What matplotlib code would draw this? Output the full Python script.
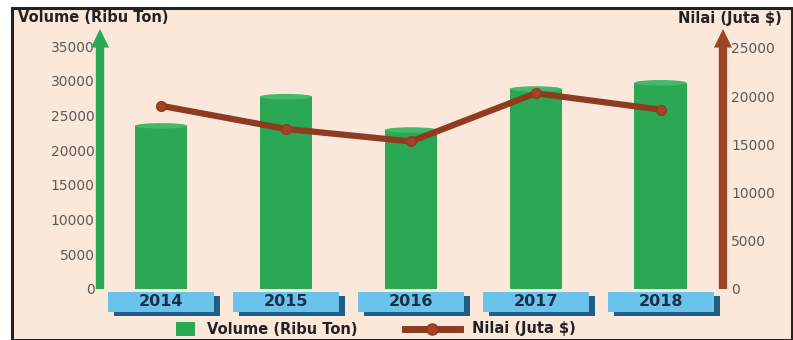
import numpy as np
import matplotlib
matplotlib.use("Agg")
import matplotlib.pyplot as plt
from matplotlib.patches import Rectangle, Ellipse
from matplotlib.lines import Line2D
import matplotlib.transforms as mtransforms

years = ["2014", "2015", "2016", "2017", "2018"]
volume = [23500, 27700, 22900, 28800, 29700]   # Ribu Ton
nilai = [19000, 16600, 15300, 20300, 18600]     # Juta $
vol_ticks = [0, 5000, 10000, 15000, 20000, 25000, 30000, 35000]
nil_ticks = [0, 5000, 10000, 15000, 20000, 25000]

bg = "#fce8da"
green = "#2aa853"
green_top = "#45b96b"
brown = "#8e3b1f"
sky = "#69c3ea"
navy = "#1f5f86"

W, H = 793, 340
fig = plt.figure(figsize=(W / 100, H / 100), dpi=100)
fig.patch.set_facecolor("white")

# outer frame
frame = Rectangle((12 / W, 0), (W - 13) / W, (H - 8) / H, transform=fig.transFigure,
                  facecolor=bg, edgecolor="#222222", lw=2.2, zorder=-5)
fig.patches.append(frame)

x0, y0, x1, y1 = 100, 289, 723, 46
ax = fig.add_axes([x0 / W, (H - y0) / H, (x1 - x0) / W, (y0 - y1) / H])
ax.set_facecolor("none")
ax2 = ax.twinx()

x = np.arange(len(years))
bw = 0.42
ax.set_xlim(-0.49, 4.5)
ax.set_ylim(0, 35000)
ax2.set_ylim(0, 25200)

ax.bar(x, volume, width=bw, color=green, zorder=2)
for xi, v in zip(x, volume):
    ax.add_patch(Ellipse((xi, v), bw, 800, facecolor=green_top, edgecolor="none", zorder=3))

ax2.plot(x, nilai, color=brown, lw=4.5, solid_capstyle="round", zorder=4)
ax2.plot(x, nilai, "o", color="#a3442a", ms=7, mec=brown, zorder=5)

for a in (ax, ax2):
    for s in a.spines.values():
        s.set_visible(False)
    a.tick_params(length=0)
ax.set_xticks([])
ax.set_yticks(vol_ticks)
ax.set_yticklabels([str(t) for t in vol_ticks], color="#5a5a5a", fontsize=10)
ax.tick_params(axis="y", pad=4)
ax2.set_yticks(nil_ticks)
ax2.set_yticklabels([str(t) for t in nil_ticks], color="#5a5a5a", fontsize=10)
ax2.tick_params(axis="y", pad=6)

# arrow axes
for xa, col in ((0, green), (1, "#9a4526")):
    ax.annotate("", xy=(xa, 1.07), xytext=(xa, 0), xycoords="axes fraction",
                arrowprops=dict(arrowstyle="-|>,head_width=0.17,head_length=0.35",
                                color=col, lw=6, shrinkA=0, shrinkB=0, joinstyle="miter",
                                capstyle="butt"),
                annotation_clip=False)

# year boxes with shadow
trans = mtransforms.blended_transform_factory(ax.transData, ax.transAxes)
bx_w = 0.85
for xi, yr in zip(x, years):
    ax.add_patch(Rectangle((xi - bx_w / 2 + 0.05, -0.112), bx_w, 0.083, transform=trans,
                           facecolor=navy, edgecolor="none", clip_on=False, zorder=5))
    ax.add_patch(Rectangle((xi - bx_w / 2, -0.095), bx_w, 0.083, transform=trans,
                           facecolor=sky, edgecolor="none", clip_on=False, zorder=6))
    ax.text(xi, -0.053, yr, transform=trans, ha="center", va="center",
            fontsize=11.5, fontweight="bold", color="#1b2f4a", zorder=7)

fig.text(18 / W, 1 - 18 / H, "Volume (Ribu Ton)", fontsize=10.5, fontweight="bold",
         color="#222222", ha="left", va="center")
fig.text(782 / W, 1 - 18 / H, "Nilai (Juta $)", fontsize=10.5, fontweight="bold",
         color="#222222", ha="right", va="center")

# legend drawn by hand (square patch + long line handle)
ly = 1 - 329 / H
fig.patches.append(Rectangle((176 / W, 1 - 336 / H), 19 / W, 14 / H, transform=fig.transFigure,
                             facecolor=green, edgecolor="none"))
fig.text(207 / W, ly, "Volume (Ribu Ton)", fontsize=10.5, fontweight="bold",
         color="#222222", ha="left", va="center")
fig.lines.append(Line2D([405 / W, 460 / W], [ly, ly], transform=fig.transFigure,
                        color=brown, lw=5))
fig.lines.append(Line2D([432 / W], [ly], transform=fig.transFigure, marker="o", ms=8,
                        mfc="#a3442a", mec=brown, ls="none"))
fig.text(472 / W, ly, "Nilai (Juta $)", fontsize=10.5, fontweight="bold",
         color="#222222", ha="left", va="center")

fig.savefig("out.png", dpi=100, facecolor="white")
